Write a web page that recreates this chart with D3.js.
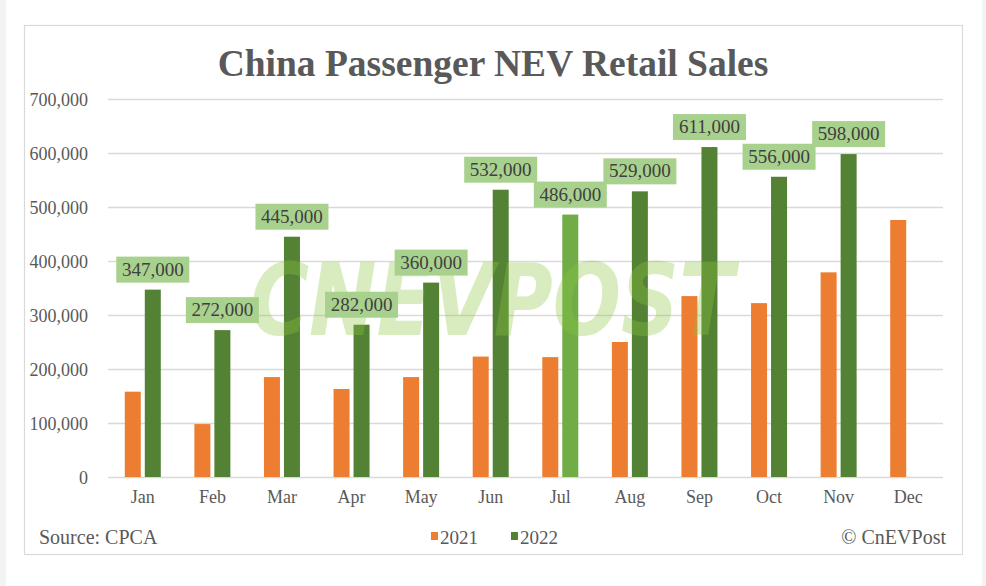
<!DOCTYPE html>
<html>
<head>
<meta charset="utf-8">
<script src="https://cdn.jsdelivr.net/npm/d3@7"></script>
<style>
  html, body { margin: 0; padding: 0; background: #ffffff; }
  svg { display: block; }
</style>
</head>
<body>
<svg id="chart" width="986" height="586"></svg>
<script>
const months = ["Jan","Feb","Mar","Apr","May","Jun","Jul","Aug","Sep","Oct","Nov","Dec"];
const seriesNames = ["2021","2022"];
const sales2021 = [158000, 98000, 185000, 163000, 185000, 223000, 222000, 250000, 335000, 322000, 379000, 476000];
const sales2022 = [347000, 272000, 445000, 282000, 360000, 532000, 486000, 529000, 611000, 556000, 598000, null];
const yTicks = [0, 100000, 200000, 300000, 400000, 500000, 600000, 700000];
const titleText = "China Passenger NEV Retail Sales";
const sourceText = "Source: CPCA";
const creditText = "\u00A9 CnEVPost";
const watermarkText = "CNEVPOST";

const colors = {"2021": "#ed7d31", "2022": "#548235"};
const highlightMonth = "Jul";
const highlightColor = "#70ad47";
const textColor = "#595959";
const serif = "'Liberation Serif', 'Times New Roman', serif";

const svg = d3.select("#chart");

// page edges and frame
svg.append("rect").attr("x", 0).attr("y", 0).attr("width", 986).attr("height", 586).attr("fill", "#ffffff");
svg.append("rect").attr("x", 0).attr("y", 0).attr("width", 6).attr("height", 586).attr("fill", "#f3f3f3");
svg.append("rect").attr("x", 982).attr("y", 0).attr("width", 4).attr("height", 586).attr("fill", "#f3f3f3");
svg.append("rect").attr("x", 24.5).attr("y", 25.5).attr("width", 938).attr("height", 529)
  .attr("fill", "#ffffff").attr("stroke", "#d9d9d9").attr("stroke-width", 1.2);

const x = d3.scaleBand().domain(months).range([108, 943]).padding(0);
const y = d3.scaleLinear().domain([0, 700000]).range([477, 99]);
const groupW = 36;
const xs = d3.scaleBand().domain(seriesNames).range([0, groupW]).paddingInner(0.2);

// title
svg.append("text").attr("x", 493).attr("y", 76).attr("text-anchor", "middle")
  .attr("font-family", serif).attr("font-weight", "bold").attr("font-size", 37.5)
  .attr("fill", textColor).text(titleText);

// gridlines
svg.append("g").selectAll("line").data(yTicks).join("line")
  .attr("x1", 108).attr("x2", 943)
  .attr("y1", d => Math.round(y(d)) + 0.5).attr("y2", d => Math.round(y(d)) + 0.5)
  .attr("stroke", "#d9d9d9").attr("stroke-width", 1.3);

// y axis labels
const yAxis = d3.axisLeft(y).tickValues(yTicks).tickFormat(d3.format(",")).tickSize(0).tickPadding(0);
const yg = svg.append("g").attr("transform", "translate(88,0)").call(yAxis);
yg.select(".domain").remove();
yg.selectAll("text").attr("font-family", serif).attr("font-size", 18).attr("fill", textColor).attr("dy", "0.34em");

// x axis labels
const xAxis = d3.axisBottom(x).tickSize(0).tickPadding(0);
const xg = svg.append("g").attr("transform", "translate(0,489)").call(xAxis);
xg.select(".domain").remove();
xg.selectAll("text").attr("font-family", serif).attr("font-size", 18).attr("fill", textColor).attr("dy", "0.8em");

// bars
const rows = months.map((m, i) => ({m, "2021": sales2021[i], "2022": sales2022[i]}));
const off = m => x(m) + (x.bandwidth() - groupW) / 2;
const barG = svg.append("g");
seriesNames.forEach(s => {
  barG.selectAll(null).data(rows.filter(r => r[s] != null)).join("rect")
    .attr("x", r => off(r.m) + xs(s))
    .attr("width", xs.bandwidth())
    .attr("y", r => y(r[s]))
    .attr("height", r => y(0) - y(r[s]))
    .attr("fill", r => (s === "2022" && r.m === highlightMonth) ? highlightColor : colors[s]);
});

// watermark
svg.append("text").attr("x", 250).attr("y", 335)
  .attr("font-family", "'DejaVu Sans', sans-serif").attr("font-weight", "bold").attr("font-style", "italic")
  .attr("font-size", 99).attr("textLength", 484).attr("lengthAdjust", "spacingAndGlyphs")
  .attr("fill", "#8cc63f").attr("opacity", 0.33).text(watermarkText);

// data labels for 2022
const fmt = d3.format(",");
const lblW = 73, lblH = 26;
const lblG = svg.append("g");
rows.filter(r => r["2022"] != null).forEach(r => {
  const cx = off(r.m) + xs("2022") + xs.bandwidth() / 2;
  const bottom = y(r["2022"]) - 7;
  lblG.append("rect").attr("x", cx - lblW / 2).attr("y", bottom - lblH)
    .attr("width", lblW).attr("height", lblH).attr("fill", "#a9d18e");
  lblG.append("text").attr("x", cx).attr("y", bottom - 7).attr("text-anchor", "middle")
    .attr("font-family", serif).attr("font-size", 19).attr("fill", "#404040")
    .text(fmt(r["2022"]));
});

// footer
svg.append("text").attr("x", 39).attr("y", 544).attr("font-family", serif).attr("font-size", 20)
  .attr("fill", textColor).text(sourceText);
svg.append("text").attr("x", 946).attr("y", 544).attr("text-anchor", "end").attr("font-family", serif)
  .attr("font-size", 20).attr("fill", textColor).text(creditText);

// legend
const legendX = [431, 511];
const lg = svg.append("g");
seriesNames.forEach((s, i) => {
  lg.append("rect").attr("x", legendX[i]).attr("y", 532).attr("width", 7).attr("height", 8).attr("fill", colors[s]);
  lg.append("text").attr("x", legendX[i] + 9).attr("y", 544).attr("font-family", serif).attr("font-size", 19)
    .attr("fill", textColor).text(s);
});
</script>
</body>
</html>
